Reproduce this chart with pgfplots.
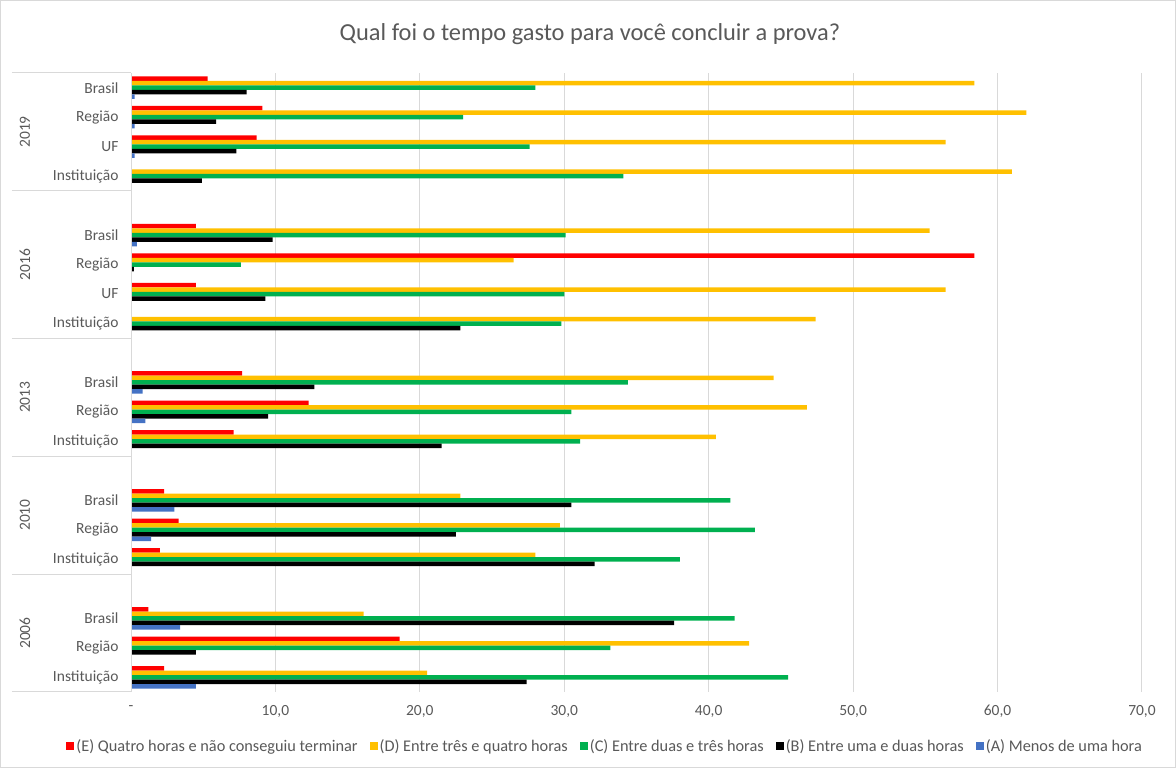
\documentclass[border=0pt]{standalone}
\usepackage{pgfplots}
\pgfplotsset{compat=1.18}
\usepackage{pgfplotstable}
\usepackage{fontspec}
\setmainfont{Carlito}
\definecolor{txt}{HTML}{595959}
\definecolor{gridc}{HTML}{D9D9D9}
\definecolor{cE}{HTML}{FF0000}
\definecolor{cD}{HTML}{FFC000}
\definecolor{cC}{HTML}{00B050}
\definecolor{cB}{HTML}{000000}
\definecolor{cA}{HTML}{4472C4}
\newcommand\lbl{\fontsize{15.5}{18}\selectfont}

% y = slot from the bottom (blank slots 3, 7, 11, 16 separate the years)
\pgfplotstableread{
y  E    D    C    B    A
20 5.3  58.4 28.0 8.0  0.25
19 9.1  62.0 23.0 5.9  0.25
18 8.7  56.4 27.6 7.3  0.25
17 0    61.0 34.1 4.9  0
15 4.5  55.3 30.1 9.8  0.4
14 58.4 26.5 7.6  0.2  0
13 4.5  56.4 30.0 9.3  0
12 0    47.4 29.8 22.8 0
10 7.7  44.5 34.4 12.7 0.8
9  12.3 46.8 30.5 9.5  1.0
8  7.1  40.5 31.1 21.5 0
6  2.3  22.8 41.5 30.5 3.0
5  3.3  29.7 43.2 22.5 1.4
4  2.0  28.0 38.0 32.1 0
2  1.2  16.1 41.8 37.6 3.4
1  18.6 42.8 33.2 4.5  0
0  2.3  20.5 45.5 27.4 4.5
}\tempos

\begin{document}
\begin{tikzpicture}
\draw[gridc, line width=1pt] (0.5pt,0.5pt) rectangle (1175.5pt,767.5pt);
\begin{axis}[
    at={(131pt,76pt)}, anchor=south west,
    scale only axis, width=1011pt, height=619pt,
    xbar, bar width=4.5pt,
    bars/.style={fill=#1, draw=none,
        legend image code/.code={\fill[#1] (0pt,-4pt) rectangle (8pt,4pt);}},
    xmin=0, xmax=70, ymin=-0.5, ymax=20.5,
    xtick={0,10,...,70},
    xticklabels={-,{10,0},{20,0},{30,0},{40,0},{50,0},{60,0},{70,0}},
    ytick={0,1,2,4,5,6,8,9,10,12,13,14,15,17,18,19,20},
    yticklabels={Instituição,Região,Brasil,Instituição,Região,Brasil,Instituição,Região,Brasil,Instituição,UF,Região,Brasil,Instituição,UF,Região,Brasil},
    xmajorgrids, major grid style={gridc, line width=1pt},
    major tick length=0pt,
    axis line style={draw=none},
    tick label style={font=\lbl, text=txt},
    xticklabel style={yshift=-10pt},
    yticklabel style={xshift=-9pt},
    title={Qual foi o tempo gasto para você concluir a prova?},
    title style={font=\fontsize{24.4}{28}\selectfont, text=txt, at={(0.454,1)}, anchor=center, yshift=33pt},
    legend columns=5,
    legend style={draw=none, font=\fontsize{16.3}{19}\selectfont, text=txt,
        at={(0.469,-0.0872)}, anchor=center,
        /tikz/every even column/.append style={column sep=10pt}},
    clip=false,
]
\addplot[bars=cE, bar shift=9pt]   table[x=E, y=y]{\tempos};
\addplot[bars=cD, bar shift=4.5pt] table[x=D, y=y]{\tempos};
\addplot[bars=cC, bar shift=0pt]   table[x=C, y=y]{\tempos};
\addplot[bars=cB, bar shift=-4.5pt] table[x=B, y=y]{\tempos};
\addplot[bars=cA, bar shift=-9pt]  table[x=A, y=y]{\tempos};
\legend{(E) Quatro horas e não conseguiu terminar,(D) Entre três e quatro horas,(C) Entre duas e três horas,(B) Entre uma e duas horas,(A) Menos de uma hora}

\draw[gridc, line width=1pt] (axis cs:0,-0.5) -- (axis cs:0,20.5);
\pgfplotsinvokeforeach{20.5,16.5,11.5,7.5,3.5,-0.5}{
    \draw[gridc, line width=1pt] ([xshift=-119pt]axis cs:0,#1) -- (axis cs:0,#1);
}
\node[rotate=90, font=\lbl, text=txt] at ([xshift=-106pt]axis cs:0,18.5) {2019};
\node[rotate=90, font=\lbl, text=txt] at ([xshift=-106pt]axis cs:0,14) {2016};
\node[rotate=90, font=\lbl, text=txt] at ([xshift=-106pt]axis cs:0,9.5) {2013};
\node[rotate=90, font=\lbl, text=txt] at ([xshift=-106pt]axis cs:0,5.5) {2010};
\node[rotate=90, font=\lbl, text=txt] at ([xshift=-106pt]axis cs:0,1.5) {2006};
\end{axis}
\end{tikzpicture}
\end{document}
